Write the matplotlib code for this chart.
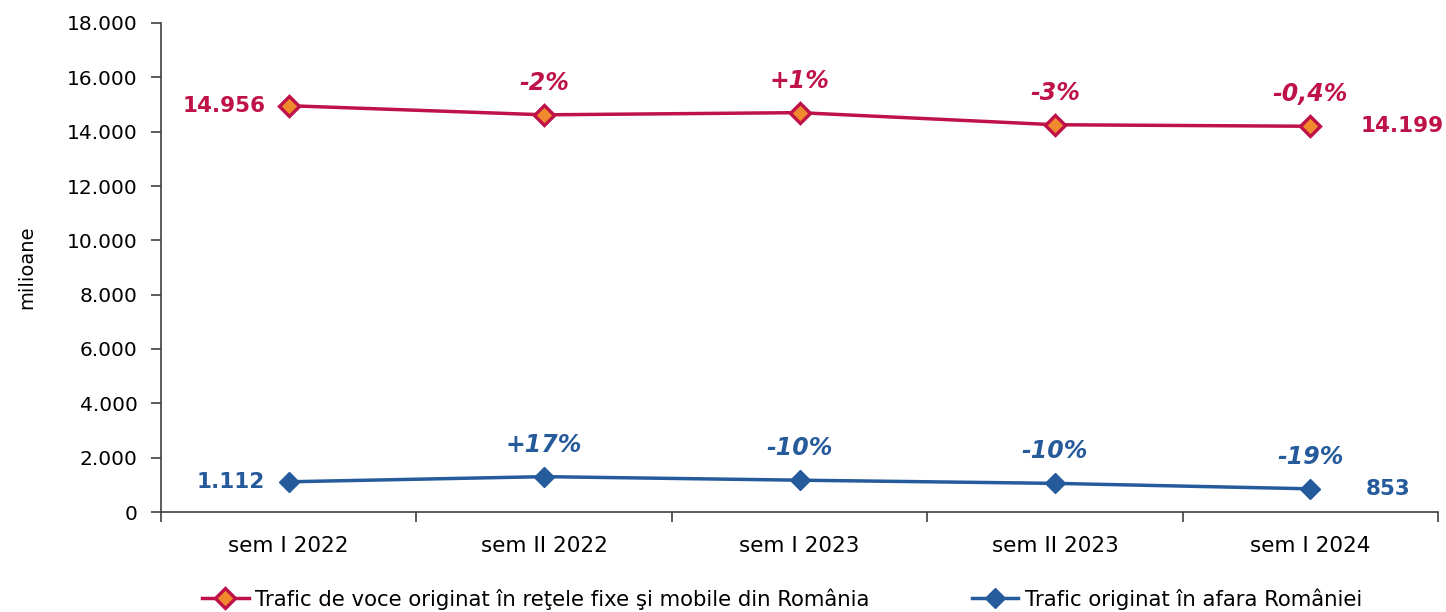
import matplotlib
matplotlib.use("Agg")
import matplotlib.pyplot as plt
from matplotlib.ticker import FuncFormatter, FixedLocator

categories = ["sem I 2022", "sem II 2022", "sem I 2023", "sem II 2023", "sem I 2024"]
voce_ro = [14956, 14620, 14700, 14255, 14199]
voce_ext = [1112, 1301, 1171, 1054, 853]
pct_ro = ["", "-2%", "+1%", "-3%", "-0,4%"]
pct_ext = ["", "+17%", "-10%", "-10%", "-19%"]
label_ro = "Trafic de voce originat în reţele fixe şi mobile din România"
label_ext = "Trafic originat în afara României"
yticks = [0, 2000, 4000, 6000, 8000, 10000, 12000, 14000, 16000, 18000]

RED = "#BE1248"
ORANGE = "#F08A2C"
BLUE = "#255A9B"

plt.rcParams['font.family'] = ['DejaVu Sans']

fig = plt.figure(figsize=(14.46, 6.12), dpi=100)
ax = fig.add_axes([161/1446, 100/612, (1438-161)/1446, (512-23)/612])

x = list(range(len(categories)))
ax.plot(x, voce_ro, color=RED, lw=2.5, marker="D", ms=10, mfc=ORANGE, mec=RED, mew=2.4,
        label=label_ro, zorder=3)
ax.plot(x, voce_ext, color=BLUE, lw=2.5, marker="D", ms=10.5, mfc=BLUE, mec=BLUE,
        label=label_ext, zorder=3)

ax.set_xlim(-0.5, len(categories) - 0.5)
ax.set_ylim(0, 18000)
ax.yaxis.set_major_locator(FixedLocator(yticks))
ax.yaxis.set_major_formatter(FuncFormatter(lambda v, p: f"{int(v):,}".replace(",", ".")))
ax.set_xticks(x)
ax.set_xticklabels(categories)
ax.tick_params(axis="x", length=0, pad=17, labelsize=15.5)
ax.set_xticks([i - 0.5 for i in range(len(categories) + 1)], minor=True)
ax.tick_params(axis="x", which="minor", length=7, width=1.2, color="#404040")
ax.tick_params(axis="y", length=7, width=1.2, color="#404040", labelsize=14.5, pad=10)
for s in ["top", "right"]:
    ax.spines[s].set_visible(False)
for s in ["left", "bottom"]:
    ax.spines[s].set_color("#404040")
    ax.spines[s].set_linewidth(1.2)
ax.set_ylabel("milioane", fontsize=14, labelpad=22)

fmt = lambda v: f"{v:,}".replace(",", ".")
ax.annotate(fmt(voce_ro[0]), (x[0], voce_ro[0]), xytext=(-17, 0),
            textcoords="offset points", ha="right", va="center", color=RED,
            fontsize=15.5, fontweight="bold")
ax.annotate(fmt(voce_ro[-1]), (x[-1], voce_ro[-1]), xytext=(36, 0),
            textcoords="offset points", ha="left", va="center", color=RED,
            fontsize=15.5, fontweight="bold")
ax.annotate(fmt(voce_ext[0]), (x[0], voce_ext[0]), xytext=(-17, 0),
            textcoords="offset points", ha="right", va="center", color=BLUE,
            fontsize=15.5, fontweight="bold")
ax.annotate(fmt(voce_ext[-1]), (x[-1], voce_ext[-1]), xytext=(40, 0),
            textcoords="offset points", ha="left", va="center", color=BLUE,
            fontsize=15.5, fontweight="bold")

for i in range(1, len(categories)):
    ax.annotate(pct_ro[i], (x[i], voce_ro[i]), xytext=(0, 23), textcoords="offset points",
                ha="center", va="center", color=RED, fontsize=17,
                fontweight="bold", fontstyle="italic")
    ax.annotate(pct_ext[i], (x[i], voce_ext[i]), xytext=(0, 23), textcoords="offset points",
                ha="center", va="center", color=BLUE, fontsize=17,
                fontweight="bold", fontstyle="italic")

fig.legend(loc="center", bbox_to_anchor=(782/1446, 13/612), ncol=2, frameon=False,
           fontsize=15.3, handlelength=2.2, handletextpad=0.3, columnspacing=4.8,
           borderaxespad=0)

fig.savefig("out.png", dpi=100, facecolor="white")
